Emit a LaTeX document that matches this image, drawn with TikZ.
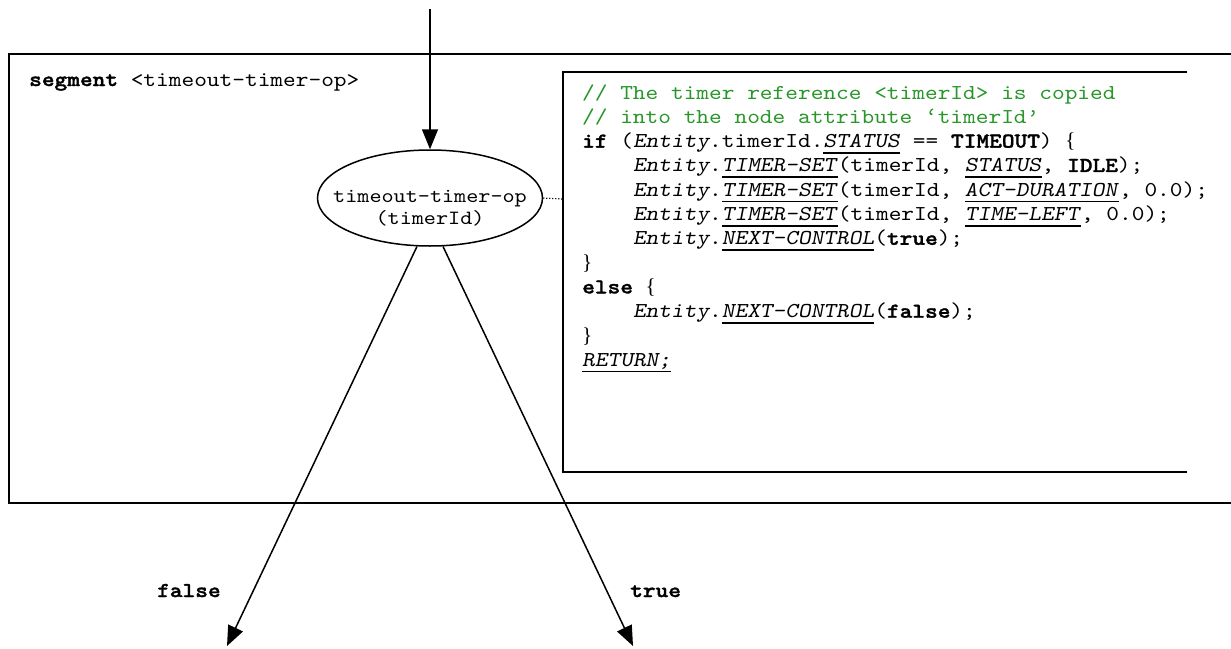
\documentclass[tikz,border=0pt]{standalone}
\usepackage{fontspec}
\usetikzlibrary{arrows.meta,shapes.geometric}
\newfontfamily\cmono{lmmono10-regular}[Extension=.otf, BoldFont=lmmonolt10-bold, BoldFeatures={FakeBold=1.5}, ItalicFont=lmmonoslant10-regular, FakeStretch=1.141]
\newfontfamily\cserif{Liberation Serif}
\definecolor{cgreen}{RGB}{40,150,40}
\newcommand{\uit}[1]{\setbox0\hbox{\textit{#1}}\rlap{\rule[-6pt]{\wd0}{1.7pt}}\box0\relax}
\newcommand{\ent}{\textit{Entity}.}
\newcommand{\ind}{\phantom{0000}}
\newcommand{\lb}{{\cserif\{}}
\newcommand{\rb}{{\cserif\}}}
\tikzset{
  frame/.style={line width=1.8pt},
  conn/.style={line width=1.5pt, -{Triangle[length=20pt,width=16pt]}},
  codeline/.style={anchor=base west, inner sep=0pt, font=\cmono\fontsize{21.2}{24.3}\selectfont},
  lbl/.style={anchor=base west, inner sep=0pt, font=\cmono\bfseries\fontsize{21.2}{24.3}\selectfont},
}
\begin{document}
\begin{tikzpicture}[x=1pt,y=-1pt]
\useasboundingbox (0,0) rectangle (1231,648);
% outer segment frame (open on the right)
\draw[frame] (1232,54) -- (9,54) -- (9,503) -- (1232,503);
% code box (open on the right)
\draw[frame] (1187,72) -- (563,72) -- (563,472) -- (1187,472);
\coordinate (cw) at (563,199);
\node[codeline] (seg) at (29,86) {\textbf{segment} <timeout-timer-op>};
% operation ellipse
\node[ellipse, draw, line width=1.5pt, minimum width=225pt, minimum height=96pt, inner sep=0pt] (e) at (430,198) {};
\node[align=center, inner sep=0pt, font=\cmono\fontsize{20.2}{22}\selectfont] (et) at (430,208) {timeout-timer-op\\(timerId)};
\coordinate (top) at (430,9);
\coordinate (fT) at (227,646);
\coordinate (tT) at (633,646);
\draw[conn] (top) -- (e.north);
\draw[conn] (e.255) -- (fT);
\draw[conn] (e.285) -- (tT);
\draw[line width=1.2pt, dash pattern=on 1.2pt off 1.8pt] (e.east) -- (cw);
\node[lbl] (lf) at (157,597) {false};
\node[lbl] (lt) at (630,597) {true};
% code lines
\node[codeline, text=cgreen] (l1) at (582,99.0) {// The timer reference <timerId> is copied};
\node[codeline, text=cgreen] (l2) at (582,123.3) {// into the node attribute ‘timerId’};
\node[codeline] (l3) at (582,147.6) {\textbf{if} (\ent timerId.\uit{STATUS} == \textbf{TIMEOUT}) \lb};
\node[codeline] (l4) at (582,171.9) {\ind\ent\uit{TIMER-SET}(timerId, \uit{STATUS}, \textbf{IDLE});};
\node[codeline] (l5) at (582,196.2) {\ind\ent\uit{TIMER-SET}(timerId, \uit{ACT-DURATION}, 0.0);};
\node[codeline] (l6) at (582,220.5) {\ind\ent\uit{TIMER-SET}(timerId, \uit{TIME-LEFT}, 0.0);};
\node[codeline] (l7) at (582,244.8) {\ind\ent\uit{NEXT-CONTROL}(\textbf{true});};
\node[codeline] (l8) at (582,269.1) {\rb};
\node[codeline] (l9) at (582,293.4) {\textbf{else} \lb};
\node[codeline] (l10) at (582,317.7) {\ind\ent\uit{NEXT-CONTROL}(\textbf{false});};
\node[codeline] (l11) at (582,342.0) {\rb};
\node[codeline] (l12) at (582,366.3) {\uit{RETURN;}};
\end{tikzpicture}
\end{document}
